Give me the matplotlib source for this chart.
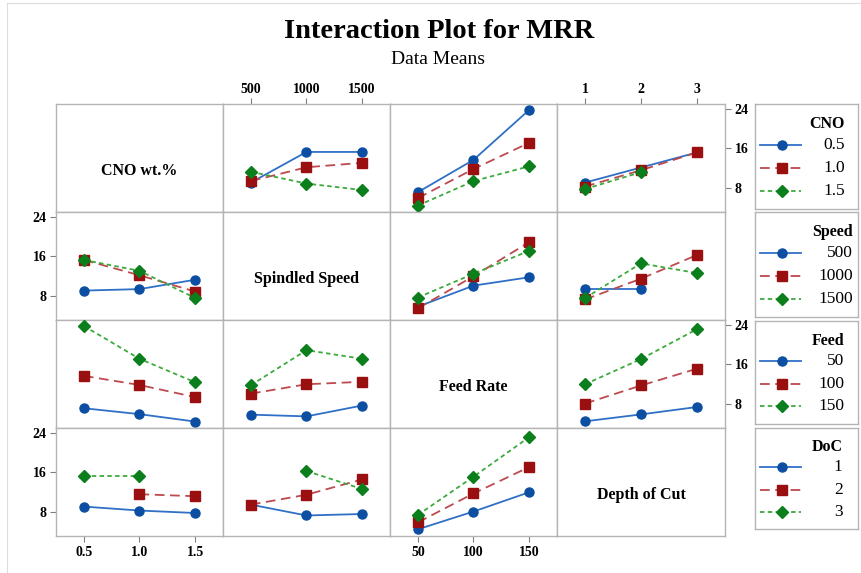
import numpy as np
import matplotlib
matplotlib.use("Agg")
import matplotlib.pyplot as plt
from matplotlib.lines import Line2D

plt.rcParams['font.family'] = ['Liberation Serif', 'DejaVu Serif']
plt.rcParams['lines.scale_dashes'] = False

# Factor names and levels
factor_keys = ["CNO", "Speed", "Feed", "DoC"]
factor_titles = ["CNO wt.%", "Spindled Speed", "Feed Rate", "Depth of Cut"]
cno_levels = [0.5, 1.0, 1.5]
speed_levels = [500, 1000, 1500]
feed_levels = [50, 100, 150]
doc_levels = [1, 2, 3]
cno_labels = ["0.5", "1.0", "1.5"]
speed_labels = ["500", "1000", "1500"]
feed_labels = ["50", "100", "150"]
doc_labels = ["1", "2", "3"]

# Two-way cell means of MRR (rows: first factor, columns: second factor); nan = no runs
cno_speed = [[9.1, 15.3, 15.3],
             [9.4, 12.2, 13.1],
             [11.3, 8.9, 7.6]]
cno_feed = [[7.15, 13.7, 23.8],
            [5.95, 11.85, 17.15],
            [4.45, 9.4, 12.4]]
cno_doc = [[9.1, np.nan, 15.2],
           [8.3, 11.6, 15.2],
           [7.8, 11.2, np.nan]]
speed_feed = [[5.85, 10.1, 11.8],
              [5.5, 12.0, 18.9],
              [7.7, 12.5, 17.15]]
speed_doc = [[9.5, 9.5, np.nan],
             [7.3, 11.5, 16.3],
             [7.6, 14.6, 12.65]]
feed_doc = [[4.5, 5.9, 7.4],
            [8.1, 11.75, 15.15],
            [12.0, 17.1, 23.15]]

levels = [cno_levels, speed_levels, feed_levels, doc_levels]
labels = [cno_labels, speed_labels, feed_labels, doc_labels]
tables = {(0, 1): cno_speed, (0, 2): cno_feed, (0, 3): cno_doc,
          (1, 2): speed_feed, (1, 3): speed_doc, (2, 3): feed_doc}

y_ticks = [8, 16, 24]
y_lim = (3.15, 25.0)

line_colors = ['#2F70C6', '#BC4A4E', '#3CAA3C']
marker_colors = ['#0B4EA2', '#9A0F0F', '#0B7F1B']
markers = ['o', 's', 'D']
marker_sizes = [6.5, 6.5, 6.5]
dashes = [None, (7, 4), (3.2, 2.4)]
grid_gray = '#B4B4B4'

W, H = 862, 573
fig = plt.figure(figsize=(W / 100, H / 100), dpi=100)


def rect(x0, y0, x1, y1):
    return [x0 / W, 1 - y1 / H, (x1 - x0) / W, (y1 - y0) / H]


col_edges = [56, 223, 390, 557, 725]
row_edges = [104, 212, 320, 428, 536]
tick_font = dict(fontsize=10, fontweight='bold')


def get_table(r, c):
    if (r, c) in tables:
        return np.array(tables[(r, c)], dtype=float)
    return np.array(tables[(c, r)], dtype=float).T


for r in range(4):
    for c in range(4):
        ax = fig.add_axes(rect(col_edges[c], row_edges[r], col_edges[c + 1], row_edges[r + 1]))
        lv = levels[c]
        step = lv[1] - lv[0]
        ax.set_xlim(lv[0] - 0.5 * step, lv[-1] + 0.5 * step)
        ax.set_ylim(*y_lim)
        for s in ax.spines.values():
            s.set_color(grid_gray)
            s.set_linewidth(1.0)
        ax.tick_params(which='both', length=0, colors='#7F7F7F')
        ax.set_xticks([])
        ax.set_yticks([])

        if r == c:
            ax.text(0.5, 0.38, factor_titles[r], transform=ax.transAxes,
                    ha='center', va='center', fontsize=11.5, fontweight='bold')
        else:
            tab = get_table(r, c)
            for k in range(3):
                vals = tab[k]
                ok = ~np.isnan(vals)
                xs = np.array(lv, dtype=float)[ok]
                ln, = ax.plot(xs, vals[ok], color=line_colors[k], lw=1.3,
                              marker=markers[k], markersize=marker_sizes[k],
                              markerfacecolor=marker_colors[k],
                              markeredgecolor=marker_colors[k], zorder=3 + k)
                if dashes[k] is not None:
                    ln.set_dashes(dashes[k])

        # x ticks: bottom for columns 0 and 2, top for columns 1 and 3
        if c in (0, 2) and r == 3:
            ax.set_xticks(lv)
            ax.set_xticklabels(labels[c], **tick_font)
            ax.tick_params(axis='x', bottom=True, length=4, width=0.8, pad=3, labelcolor='black')
        if c in (1, 3) and r == 0:
            ax.xaxis.set_ticks_position('top')
            ax.set_xticks(lv)
            ax.set_xticklabels(labels[c], **tick_font)
            ax.tick_params(axis='x', top=True, bottom=False, labeltop=True, labelbottom=False,
                           length=4, width=0.8, pad=2, labelcolor='black')
        # y ticks: left for rows 1 and 3, right for rows 0 and 2
        if r in (1, 3) and c == 0:
            ax.set_yticks(y_ticks)
            ax.set_yticklabels([str(t) for t in y_ticks], **tick_font)
            ax.tick_params(axis='y', left=True, length=4, width=0.8, pad=3, labelcolor='black')
        if r in (0, 2) and c == 3:
            ax.yaxis.set_ticks_position('right')
            ax.set_yticks(y_ticks)
            ax.set_yticklabels([str(t) for t in y_ticks], **tick_font)
            ax.tick_params(axis='y', right=True, left=False, labelright=True, labelleft=False,
                           length=4, width=0.8, pad=3, labelcolor='black')

# Legend boxes, one per factor row
legend_boxes = [(755, 104, 858, 209), (755, 212, 858, 317), (755, 321, 858, 424), (755, 428, 858, 529)]
label_right = [0.87, 0.95, 0.87, 0.85]
for i, (x0, y0, x1, y1) in enumerate(legend_boxes):
    lax = fig.add_axes(rect(x0, y0, x1, y1))
    lax.set_xlim(0, 1)
    lax.set_ylim(0, 1)
    lax.set_xticks([])
    lax.set_yticks([])
    for s in lax.spines.values():
        s.set_color(grid_gray)
        s.set_linewidth(1.0)
    lax.text(label_right[i], 0.81, factor_keys[i], ha='right', va='center',
             fontsize=11.5, fontweight='bold')
    for k, yy in enumerate([0.61, 0.39, 0.17]):
        ln = Line2D([0.05, 0.45], [yy, yy], color=line_colors[k], lw=1.3)
        if dashes[k] is not None:
            ln.set_dashes(dashes[k])
        lax.add_line(ln)
        lax.plot([0.26], [yy], marker=markers[k], markersize=marker_sizes[k],
                 color=marker_colors[k], linestyle='none')
        lax.text(label_right[i], yy, labels[i][k], ha='right', va='center', fontsize=12.5)

fig.text(0.51, 1 - 32 / H, "Interaction Plot for MRR", ha='center', va='center',
         fontsize=20.5, fontweight='bold')
fig.text(0.508, 1 - 59 / H, "Data Means", ha='center', va='center', fontsize=14)

# thin page border on the left
fig.add_artist(Line2D([7 / W, 7 / W], [0, 1 - 3 / H], color='#DDDDDD', lw=0.8))
fig.add_artist(Line2D([7 / W, 1], [1 - 3 / H, 1 - 3 / H], color='#DDDDDD', lw=0.8))

fig.savefig("out.png", dpi=100, facecolor='white')
